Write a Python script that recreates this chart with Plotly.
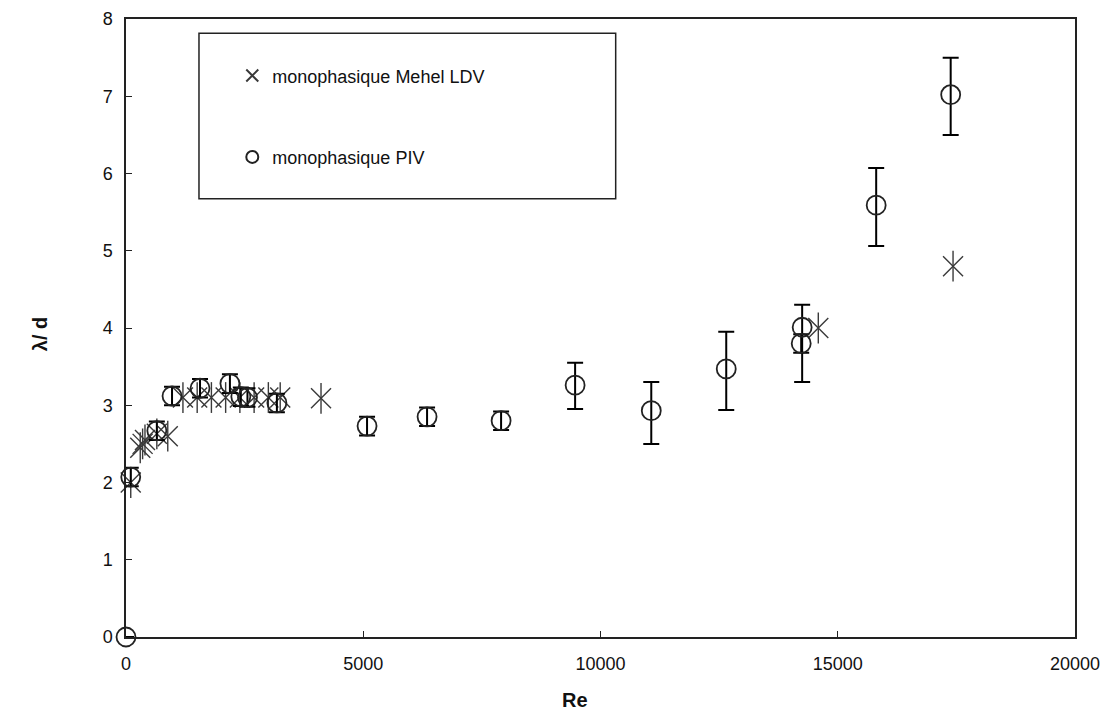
import plotly.graph_objects as go

# PIV (circles) data
piv_re = [0, 100, 650, 970, 1560, 2190, 2420, 2560, 3180, 5080, 6345, 7905, 9465, 11070, 12650, 14230, 14250, 15810, 17380]
piv_ld = [0, 2.07, 2.67, 3.12, 3.22, 3.28, 3.11, 3.10, 3.03, 2.73, 2.85, 2.80, 3.26, 2.93, 3.47, 3.80, 4.01, 5.59, 7.02]
piv_err_plus = [0, 0.12, 0.12, 0.12, 0.12, 0.12, 0.12, 0.12, 0.12, 0.12, 0.12, 0.12, 0.29, 0.37, 0.48, 0.12, 0.29, 0.48, 0.48]
piv_err_minus = [0, 0.12, 0.12, 0.12, 0.12, 0.12, 0.12, 0.12, 0.12, 0.12, 0.12, 0.12, 0.31, 0.43, 0.53, 0.12, 0.71, 0.53, 0.52]

# Mehel LDV (asterisks) data
ldv_re = [100, 300, 350, 400, 650, 880, 1200, 1500, 1800, 2100, 2400, 2700, 3000, 3250, 4110, 14590, 17430]
ldv_ld = [2.00, 2.45, 2.50, 2.55, 2.63, 2.60, 3.10, 3.10, 3.10, 3.10, 3.10, 3.10, 3.10, 3.10, 3.09, 4.00, 4.80]

x_ticks = [0, 5000, 10000, 15000, 20000]
y_ticks = [0, 1, 2, 3, 4, 5, 6, 7, 8]

FONT = "Liberation Sans, Arial, sans-serif"

fig = go.Figure()

fig.add_trace(go.Scatter(
    x=ldv_re, y=ldv_ld, mode="markers", name="monophasique Mehel LDV",
    legendgroup="a",
    marker=dict(symbol="x-thin-open", size=20, line=dict(width=1.4, color="#3a3a3a"), color="#3a3a3a"),
    cliponaxis=False,
))
fig.add_trace(go.Scatter(
    x=ldv_re, y=ldv_ld, mode="markers", showlegend=False, legendgroup="a",
    marker=dict(symbol="line-ns-open", size=22, line=dict(width=1.4, color="#3a3a3a"), color="#3a3a3a"),
    cliponaxis=False, hoverinfo="skip",
))
fig.add_trace(go.Scatter(
    x=piv_re, y=piv_ld, mode="markers", name="monophasique PIV",
    legendgroup="b",
    marker=dict(symbol="circle-open", size=19, line=dict(width=1.8, color="#222222"), color="#222222"),
    error_y=dict(type="data", symmetric=False, array=piv_err_plus, arrayminus=piv_err_minus,
                 color="#000000", thickness=2, width=8),
    cliponaxis=False,
))

# legend box
fig.add_shape(type="rect", xref="paper", yref="paper",
              x0=0.0769, x1=0.516, y0=0.709, y1=0.977,
              line=dict(color="#222222", width=1.5), fillcolor="rgba(0,0,0,0)", layer="below")

axis_common = dict(
    showgrid=False, zeroline=False, showline=True, linecolor="#222222", linewidth=1.5,
    mirror=True, ticks="inside", ticklen=6, tickwidth=1.2, tickcolor="#222222",
    tickfont=dict(family=FONT, size=18, color="#111111"), automargin=False,
)

fig.update_layout(
    width=1097, height=705,
    margin=dict(l=118, r=30, t=11, b=76),
    plot_bgcolor="white", paper_bgcolor="white",
    showlegend=True,
    legend=dict(x=0.112, y=0.938, xanchor="left", yanchor="top",
                bgcolor="rgba(0,0,0,0)", borderwidth=0,
                font=dict(family=FONT, size=18, color="#111111"),
                tracegroupgap=55, traceorder="grouped", itemsizing="constant"),
    xaxis=dict(range=[0, 20000], tickvals=x_ticks, ticktext=[str(v) for v in x_ticks],
               ticklabelstandoff=10, **axis_common),
    yaxis=dict(range=[0, 8], tickvals=y_ticks, ticktext=[str(v) for v in y_ticks],
               ticklabelstandoff=8, **axis_common),
    annotations=[
        dict(text="<b>Re</b>", xref="paper", yref="paper", x=0.473, y=0, yshift=-63,
             xanchor="center", yanchor="middle", showarrow=False,
             font=dict(family=FONT, size=20, color="#111111")),
        dict(text="<b>λ/ d</b>", xref="paper", yref="paper", x=0, y=0.49, xshift=-86,
             xanchor="center", yanchor="middle", showarrow=False, textangle=-90,
             font=dict(family=FONT, size=20, color="#111111")),
    ],
)

fig.write_html("out.html")
